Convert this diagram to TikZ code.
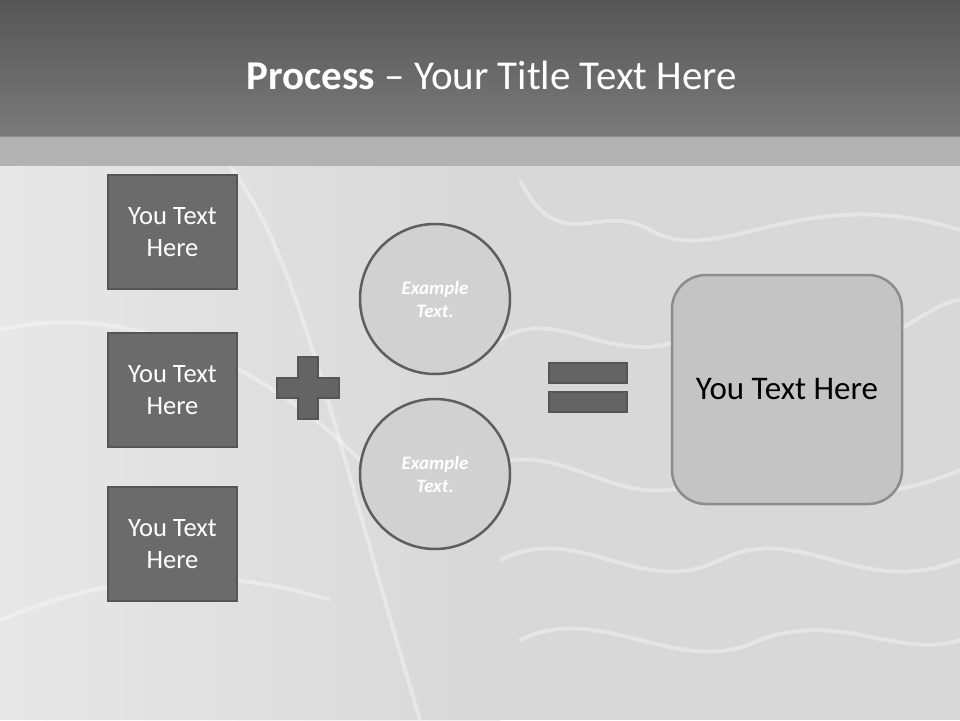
\documentclass[tikz,border=0pt]{standalone}
\usepackage{fontspec}
\setmainfont{Carlito}
\usetikzlibrary{positioning}
\definecolor{barTop}{HTML}{565656}
\definecolor{barBot}{HTML}{7A7A7A}
\definecolor{slideBg}{HTML}{D8D8D8}
\definecolor{boxFill}{HTML}{6B6B6B}
\definecolor{boxLine}{HTML}{555555}
\definecolor{circFill}{HTML}{D1D1D1}
\definecolor{circLine}{HTML}{5E5E5E}
\definecolor{resFill}{HTML}{C4C4C4}
\definecolor{resLine}{HTML}{8C8C8C}
\begin{document}
\begin{tikzpicture}[x=1pt,y=-1pt,
  textbox/.style={draw=boxLine,line width=2pt,fill=boxFill,minimum width=129pt,minimum height=114pt,
    text=white,font=\fontsize{26.5}{32}\selectfont,align=center},
  exampleCirc/.style={circle,draw=circLine,line width=2.5pt,fill=circFill,minimum size=150pt,
    text=white,font=\fontsize{19}{23}\selectfont\bfseries\itshape,align=center},
  resultbox/.style={draw=resLine,line width=2.5pt,fill=resFill,rounded corners=34pt,
    minimum width=230pt,minimum height=229pt,font=\fontsize{33}{38}\selectfont},
  signpart/.style={draw=boxLine,line width=2pt,fill=boxFill!105}]
\useasboundingbox (0,0) rectangle (960,720);
% background
\fill[slideBg] (0,0) rectangle (960,720);
\shade[left color=white,right color=slideBg,opacity=0.4] (0,166) rectangle (500,720);
\begin{scope}[white,line width=4pt,opacity=0.35]
\draw (230,166) .. controls (300,260) and (330,420) .. (420,720);
\draw (0,330) .. controls (120,300) and (260,360) .. (360,460);
\draw (520,180) .. controls (560,260) and (600,200) .. (650,230) .. controls (720,270) and (800,180) .. (960,230);
\draw (500,340) .. controls (560,300) and (620,380) .. (700,330);
\draw (900,330) .. controls (930,310) and (950,300) .. (960,300);
\draw (480,470) .. controls (560,430) and (620,520) .. (700,480) .. controls (760,450) and (820,530) .. (960,470);
\draw (500,560) .. controls (580,520) and (640,600) .. (720,560) .. controls (800,520) and (860,600) .. (960,560);
\draw (520,640) .. controls (600,600) and (680,680) .. (760,640) .. controls (840,610) and (900,660) .. (960,640);
\draw (0,620) .. controls (100,580) and (200,560) .. (330,600);
\end{scope}
% title bar
\shade[top color=barTop,bottom color=barBot] (0,0) rectangle (960,136);
\fill[gray!80,opacity=0.6] (0,136) rectangle (960,166);
\node[text=white,font=\fontsize{41}{46}\selectfont] (title) at (492,75) {\textbf{Process} -- Your Title Text Here};
% left column
\node[textbox] (inA) at (172.5,232) {You Text\\Here};
\node[textbox] (inB) at (172.5,390) {You Text\\Here};
\node[textbox] (inC) at (172.5,544) {You Text\\Here};
% plus sign
\draw[signpart] (298,357) -- (318,357) -- (318,378) -- (339,378) -- (339,398) -- (318,398)
  -- (318,419) -- (298,419) -- (298,398) -- (277,398) -- (277,378) -- (298,378) -- cycle;
% circles
\node[exampleCirc] (exA) at (435,299) {Example\\Text.};
\node[exampleCirc] (exB) at (435,474) {Example\\Text.};
% equals sign
\draw[signpart] (549,363) rectangle (627,383);
\draw[signpart] (549,392) rectangle (627,412);
% result
\node[resultbox] (res) at (787,389.5) {You Text Here};
\end{tikzpicture}
\end{document}
